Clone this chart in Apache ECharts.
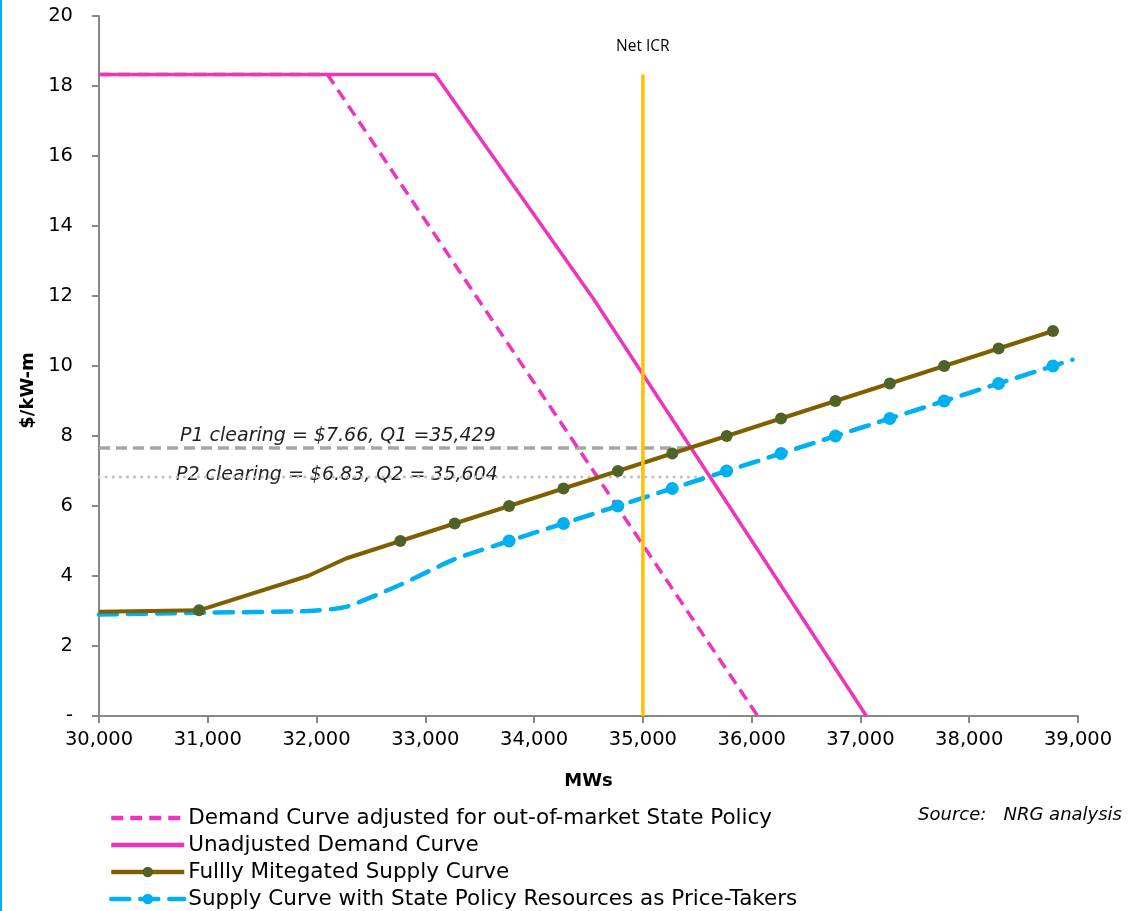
<!DOCTYPE html>
<html>
<head>
<meta charset="utf-8">
<script src="https://cdn.jsdelivr.net/npm/echarts@6/dist/echarts.min.js"></script>
<style>
  html, body { margin: 0; padding: 0; background: #fff; }
  #chart { width: 1138px; height: 911px; }
</style>
</head>
<body>
<div id="chart"></div>
<script>
// Capacity market curves: MW on x, $/kW-month on y
const xTicks = [30000, 31000, 32000, 33000, 34000, 35000, 36000, 37000, 38000, 39000];
const yTicks = [0, 2, 4, 6, 8, 10, 12, 14, 16, 18, 20];

const demandAdjusted = [[30000, 18.33], [32100, 18.33], [36055, 0]];
const demandUnadjusted = [[30000, 18.33], [33090, 18.33], [34550, 11.9], [37055, 0]];

const supplyMitigated = [
  [30000, 2.98], [30920, 3.02], [31920, 4.0], [32270, 4.5],
  [32770, 5.0], [33270, 5.5], [33770, 6.0], [34270, 6.5], [34770, 7.0],
  [35270, 7.5], [35770, 8.0], [36270, 8.5], [36770, 9.0], [37270, 9.5],
  [37770, 10.0], [38270, 10.5], [38770, 11.0]
];
const mitigatedPlain = [0, 2, 3]; // points drawn without a marker

const supplyPriceTaker = [
  [30000, 2.9], [30920, 2.95], [31920, 3.0], [32270, 3.12], [32770, 3.75],
  [33270, 4.48], [33770, 5.0], [34270, 5.5], [34770, 6.0], [35270, 6.5],
  [35770, 7.0], [36270, 7.5], [36770, 8.0], [37270, 8.5], [37770, 9.0],
  [38270, 9.5], [38770, 10.0], [38950, 10.18]
];
const priceTakerFirstMarker = 6;

const netICR = 35000;
const netICRTop = 18.33;
const clearing1 = { p: 7.66, q: 35429, label: 'P1 clearing = $7.66, Q1 =35,429' };
const clearing2 = { p: 6.83, q: 35604, label: 'P2 clearing = $6.83, Q2 = 35,604' };

const seriesNames = [
  'Demand Curve adjusted for out-of-market State Policy',
  'Unadjusted Demand Curve',
  'Fullly Mitegated Supply Curve',
  'Supply Curve with State Policy Resources as Price-Takers'
];

const FONT = 'DejaVu Sans';
const PINK = '#EE34BC';
const BROWN = '#7F6000';
const OLIVE = '#4F6228';
const BLUE = '#00B0F0';
const GOLD = '#FFC000';

const chart = echarts.init(document.getElementById('chart'), null, { renderer: 'canvas' });

const fmt = v => v.toLocaleString('en-US');

const option = {
  animation: false,
  backgroundColor: '#fff',
  grid: { left: 99, right: 60, top: 16, bottom: 195, containLabel: false },
  xAxis: {
    type: 'value',
    min: xTicks[0], max: xTicks[xTicks.length - 1], interval: 1000,
    name: 'MWs', nameLocation: 'middle', nameGap: 56,
    nameTextStyle: { fontFamily: FONT, fontSize: 18, fontWeight: 'bold', color: '#000' },
    axisLine: { lineStyle: { color: '#888', width: 2 } },
    axisTick: { show: true, length: 7, lineStyle: { color: '#888', width: 2 } },
    axisLabel: { fontFamily: FONT, fontSize: 19.5, color: '#000', margin: 14, formatter: v => fmt(v) },
    splitLine: { show: false }
  },
  yAxis: {
    type: 'value',
    min: yTicks[0], max: yTicks[yTicks.length - 1], interval: 2,
    axisLine: { show: true, lineStyle: { color: '#888', width: 2 } },
    axisTick: { show: true, length: 7, lineStyle: { color: '#888', width: 2 } },
    axisLabel: { fontFamily: FONT, fontSize: 19.5, color: '#000', margin: 26, formatter: v => v === 0 ? '-' : String(v) },
    splitLine: { show: false }
  },
  legend: {
    orient: 'vertical', left: 109, top: 807, height: 120, padding: 0,
    itemWidth: 73, itemHeight: 13, itemGap: 5,
    lineStyle: { width: 4.5 },
    data: [
      { name: seriesNames[0], itemStyle: { opacity: 0 } },
      { name: seriesNames[1], itemStyle: { opacity: 0 } },
      { name: seriesNames[2] },
      { name: seriesNames[3] }
    ],
    textStyle: { fontFamily: FONT, fontSize: 21.5, lineHeight: 22, color: '#000', padding: [0, 0, 0, -1] }
  },
  series: [
    {
      name: 'P1', type: 'line', silent: true, z: 1, symbol: 'none',
      data: [[xTicks[0], clearing1.p], [clearing1.q, clearing1.p]],
      lineStyle: { color: '#A6A6A6', width: 3.5, type: [11, 6] }
    },
    {
      name: 'P2', type: 'line', silent: true, z: 1, symbol: 'none',
      data: [[xTicks[0], clearing2.p], [clearing2.q, clearing2.p]],
      lineStyle: { color: '#BFBFBF', width: 3, type: [0.1, 7], cap: 'round' }
    },
    {
      name: seriesNames[0], type: 'line', z: 3, symbol: 'none',
      data: demandAdjusted,
      color: PINK,
      lineStyle: { color: PINK, width: 3.5, type: [12, 7] }
    },
    {
      name: seriesNames[1], type: 'line', z: 3, symbol: 'none',
      data: demandUnadjusted,
      color: PINK,
      lineStyle: { color: PINK, width: 3.5 }
    },
    {
      name: seriesNames[2], type: 'line', z: 5,
      symbol: 'circle', symbolSize: 12,
      data: supplyMitigated.map((d, i) => mitigatedPlain.includes(i) ? { value: d, symbol: 'none' } : d),
      color: OLIVE,
      itemStyle: { color: OLIVE },
      lineStyle: { color: BROWN, width: 4 }
    },
    {
      name: seriesNames[3], type: 'line', z: 4,
      symbol: 'circle', symbolSize: 13, smooth: 0.2,
      data: supplyPriceTaker.map((d, i) => (i >= priceTakerFirstMarker && i < supplyPriceTaker.length - 1) ? d : { value: d, symbol: 'none' }),
      color: BLUE,
      itemStyle: { color: BLUE },
      lineStyle: { color: BLUE, width: 4.5, type: [18, 11], cap: 'round' }
    },
    {
      name: 'Net ICR', type: 'line', silent: true, z: 6, symbol: 'none',
      data: [[netICR, 0], [netICR, netICRTop]],
      lineStyle: { color: GOLD, width: 3.5 }
    }
  ]
};

chart.setOption(option);

// Annotation texts placed from data coordinates
const p1 = chart.convertToPixel({ gridIndex: 0 }, [xTicks[0], clearing1.p]);
const p2 = chart.convertToPixel({ gridIndex: 0 }, [xTicks[0], clearing2.p]);
const icr = chart.convertToPixel({ gridIndex: 0 }, [netICR, netICRTop]);
const yMid = chart.convertToPixel({ gridIndex: 0 }, [xTicks[0], 9.3]);

chart.setOption({
  graphic: [
    { type: 'rect', left: 0, top: 0, shape: { width: 2, height: 911 }, style: { fill: '#00B0F0' }, silent: true },
    {
      type: 'text', x: p1[0] + 81, y: p1[1] - 12,
      style: { text: clearing1.label, font: 'italic 19px "DejaVu Sans"', fill: '#222', verticalAlign: 'middle' }
    },
    {
      type: 'text', x: p2[0] + 77, y: p2[1] - 2,
      style: { text: clearing2.label, font: 'italic 19px "DejaVu Sans"', fill: '#222', verticalAlign: 'middle' }
    },
    {
      type: 'text', x: icr[0], y: icr[1] - 28,
      style: { text: 'Net ICR', font: '15.5px "Open Sans"', fill: '#000', align: 'center', verticalAlign: 'middle' }
    },
    {
      type: 'text', x: 28, y: yMid[1], rotation: Math.PI / 2,
      style: { text: '$/kW-m', font: 'bold 18px "DejaVu Sans"', fill: '#000', align: 'center', verticalAlign: 'middle' }
    },
    {
      type: 'text', x: 1122, y: 815,
      style: { text: 'Source:   NRG analysis', font: 'italic 18px "DejaVu Sans"', fill: '#000', align: 'right', verticalAlign: 'middle' }
    }
  ]
});
</script>
</body>
</html>
